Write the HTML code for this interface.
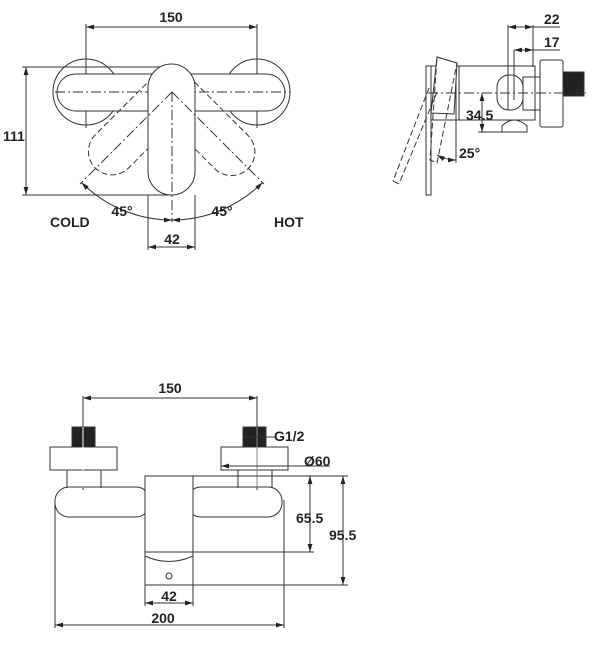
<!DOCTYPE html>
<html><head><meta charset="utf-8"><style>
html,body{margin:0;padding:0;background:#fff;}
svg{display:block;}
text{font-family:"Liberation Sans",Arial,sans-serif;font-weight:bold;fill:#222;}
</style></head><body>
<svg width="602" height="646" viewBox="0 0 602 646" xmlns="http://www.w3.org/2000/svg">
<defs>
<marker id="a" viewBox="0 0 10 6" refX="10" refY="3" markerWidth="8" markerHeight="5" orient="auto-start-reverse"><path d="M0,0 L10,3 L0,6 z" fill="#222"/></marker>
</defs>
<g fill="none" stroke="#333" stroke-width="1">
<line x1="86" y1="24" x2="86" y2="128"/><line x1="257" y1="24" x2="257" y2="128"/>
<line x1="86" y1="27" x2="257" y2="27" marker-start="url(#a)" marker-end="url(#a)"/>
<circle cx="86" cy="92" r="33"/><circle cx="257" cy="92" r="33"/>
<rect x="57" y="74" width="228" height="37" rx="18.5" fill="#fff"/>
<line x1="55" y1="92" x2="290" y2="92" stroke-dasharray="10,3,2,3"/>
<g stroke-dasharray="6,3">
<rect x="148" y="69" width="47" height="131" rx="23.5" transform="rotate(45 172 92)"/>
<rect x="148" y="69" width="47" height="131" rx="23.5" transform="rotate(-45 172 92)"/>
</g>
<rect x="148" y="64" width="47" height="131" rx="23.5" fill="#fff"/>
<line x1="172" y1="92" x2="172" y2="222" stroke-dasharray="10,3,2,3"/>
<line x1="172" y1="92" x2="80" y2="184" stroke-dasharray="10,3,2,3"/>
<line x1="172" y1="92" x2="264" y2="184" stroke-dasharray="10,3,2,3"/>
<path d="M81.5,182.5 A128,128 0 0 0 172,220" marker-start="url(#a)" marker-end="url(#a)"/>
<path d="M172,220 A128,128 0 0 0 262.5,182.5" marker-start="url(#a)" marker-end="url(#a)"/>
<line x1="22" y1="67" x2="160" y2="67"/><line x1="22" y1="195" x2="170" y2="195"/>
<line x1="26" y1="67" x2="26" y2="195" marker-start="url(#a)" marker-end="url(#a)"/>
<line x1="148" y1="195" x2="148" y2="250"/><line x1="195" y1="195" x2="195" y2="250"/>
<line x1="148" y1="247" x2="195" y2="247" marker-start="url(#a)" marker-end="url(#a)"/>
<line x1="508" y1="25" x2="508" y2="110"/><line x1="533" y1="25" x2="533" y2="67"/>
<line x1="508" y1="27" x2="533" y2="27" marker-start="url(#a)" marker-end="url(#a)"/>
<line x1="533" y1="27" x2="560" y2="27"/>
<line x1="514" y1="50" x2="514" y2="100"/>
<line x1="514" y1="50" x2="533" y2="50" marker-start="url(#a)" marker-end="url(#a)"/>
<line x1="533" y1="50" x2="560" y2="50"/>
<rect x="426" y="66" width="5" height="129"/>
<polyline points="431,66 459,66 459,120 431,120"/>
<line x1="456" y1="66" x2="456" y2="120"/>
<polygon points="437,57 457,63 454,114 431,113" fill="#fff"/>
<g stroke-dasharray="6,3">
<polygon points="437,57 457,63 437,163 430,160"/>
<line x1="429" y1="88" x2="393" y2="181"/><line x1="437" y1="92" x2="399" y2="184"/>
<line x1="393" y1="181" x2="399" y2="184"/>
</g>
<rect x="459" y="66" width="76" height="54"/>
<rect x="497" y="75" width="26" height="35" rx="12"/>
<rect x="523" y="77" width="17" height="33"/>
<rect x="540" y="60" width="23" height="67" rx="2"/>
<rect x="563" y="72" width="21" height="24" fill="#222"/>
<path d="M502,132 L502,126 Q514,114 527,126 L527,132 Z"/>
<line x1="428" y1="93" x2="586" y2="93" stroke-dasharray="10,3,2,3"/>
<line x1="482" y1="93" x2="482" y2="132" marker-start="url(#a)" marker-end="url(#a)"/>
<line x1="478" y1="132" x2="502" y2="132"/>
<path d="M437,155 Q446,160 456,160" marker-start="url(#a)" marker-end="url(#a)"/>
<line x1="456" y1="120" x2="456" y2="163"/>
<line x1="83" y1="396" x2="83" y2="490"/><line x1="257" y1="396" x2="257" y2="490"/>
<line x1="83" y1="398" x2="257" y2="398" marker-start="url(#a)" marker-end="url(#a)"/>
<rect x="72" y="427" width="23" height="20" fill="#222"/>
<rect x="243" y="427" width="23" height="20" fill="#222"/>
<rect x="50" y="447" width="67" height="23"/>
<rect x="221" y="447" width="67" height="23"/>
<line x1="67" y1="470" x2="67" y2="488"/><line x1="101" y1="470" x2="101" y2="488"/>
<line x1="238" y1="470" x2="238" y2="488"/><line x1="272" y1="470" x2="272" y2="488"/>
<line x1="83" y1="427" x2="83" y2="488" stroke="#fff"/>
<line x1="257" y1="427" x2="257" y2="488" stroke="#888"/>
<line x1="243" y1="437" x2="276" y2="437"/>
<line x1="221" y1="466" x2="330" y2="466" marker-start="url(#a)"/>
<rect x="55" y="487" width="95" height="30" rx="14"/>
<rect x="187" y="487" width="95" height="30" rx="14"/>
<rect x="145" y="476" width="48" height="109" fill="#fff"/>
<path d="M145,552 L193,552 M145,556 Q169,567 193,556"/>
<circle cx="169" cy="576" r="3"/>
<line x1="193" y1="476" x2="348" y2="476"/>
<line x1="193" y1="552" x2="314" y2="552"/>
<line x1="193" y1="585" x2="348" y2="585"/>
<line x1="310" y1="476" x2="310" y2="552" marker-start="url(#a)" marker-end="url(#a)"/>
<line x1="343" y1="476" x2="343" y2="585" marker-start="url(#a)" marker-end="url(#a)"/>
<line x1="145" y1="585" x2="145" y2="606"/><line x1="193" y1="585" x2="193" y2="606"/>
<line x1="145" y1="603" x2="193" y2="603" marker-start="url(#a)" marker-end="url(#a)"/>
<line x1="55" y1="500" x2="55" y2="628"/><line x1="284" y1="500" x2="284" y2="628"/>
<line x1="55" y1="625" x2="284" y2="625" marker-start="url(#a)" marker-end="url(#a)"/>
</g>
<g font-size="14">
<text x="171" y="22" text-anchor="middle">150</text>
<text x="3" y="141">111</text>
<text x="122" y="216" text-anchor="middle">45°</text>
<text x="222" y="216" text-anchor="middle">45°</text>
<text x="50" y="227">COLD</text>
<text x="274" y="227">HOT</text>
<text x="172" y="244" text-anchor="middle">42</text>
<text x="544" y="24">22</text>
<text x="544" y="47">17</text>
<text x="466" y="120">34.5</text>
<text x="459" y="158">25°</text>
<text x="170" y="393" text-anchor="middle">150</text>
<text x="274" y="441">G1/2</text>
<text x="304" y="466">Ø60</text>
<text x="296" y="523">65.5</text>
<text x="329" y="540">95.5</text>
<text x="169" y="601" text-anchor="middle">42</text>
<text x="163" y="623" text-anchor="middle">200</text>
</g>
</svg>
</body></html>
